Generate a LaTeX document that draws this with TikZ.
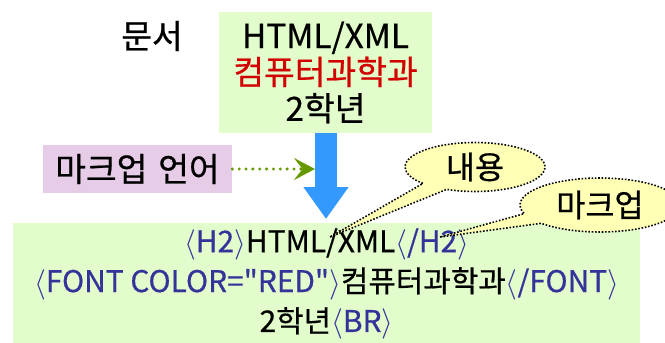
\documentclass[tikz,border=0pt]{standalone}
\usepackage{fontspec}
\setmainfont{Noto Sans CJK KR}[FakeBold=0.6,Ligatures=TeXOff]
\usetikzlibrary{shapes.callouts,arrows.meta}

\definecolor{boxgreen}{RGB}{226,252,204}
\definecolor{boxpink}{RGB}{230,204,230}
\definecolor{arrowblue}{RGB}{51,153,255}
\definecolor{dotgreen}{RGB}{102,153,0}
\definecolor{tagblue}{RGB}{51,51,153}
\definecolor{textred}{RGB}{210,0,0}
\definecolor{noteyellow}{RGB}{255,255,181}

\newcommand{\tg}[1]{\textcolor{tagblue}{$\langle$#1$\rangle$}}

\begin{document}
\begin{tikzpicture}[x=0.02cm,y=-0.02cm,
	note/.style={ellipse callout,draw,densely dotted,line width=0.9pt,fill=noteyellow,
		callout pointer arc=24,inner sep=0pt,font=\fontsize{18}{18}\selectfont}]
	\useasboundingbox (0,0) rectangle (665,342);
	% top: the document
	\node (doc) at(152,36) {\fontsize{19}{19}\selectfont 문서};
	\node (src) at(325.5,72.5) [fill=boxgreen,minimum width=4.28cm,minimum height=2.42cm,
		align=center,font=\fontsize{19}{20.7}\selectfont]
		{HTML/XML\\\textcolor{textred}{컴퓨터과학과}\\2학년};
	% markup language
	\node (lang) at(137.5,169) [fill=boxpink,minimum width=3.78cm,minimum height=0.96cm,
		font=\fontsize{19}{19}\selectfont]{마크업\hspace{0.1em} 언어};
	\coordinate (tip) at(326,219);
	\coordinate (dottip) at(315,169);
	\draw [arrowblue,line width=0.44cm,-{Triangle[width=0.86cm,length=0.64cm]}]
		(tip |- src.south)--(tip);
	\draw [dotgreen,line width=1.9pt,line cap=round,dash pattern=on 0pt off 3.9pt,
		-{Stealth[length=0.42cm,width=0.44cm,inset=0.17cm]}](lang.east)--(dottip);
	% bottom: the marked-up text
	\node (code) at(326.5,284) [fill=boxgreen,minimum width=12.54cm,minimum height=2.4cm,
		align=center,font=\fontsize{17}{22.7}\selectfont]
		{\tg{H2}HTML/XML\tg{/H2}\\\tg{FONT COLOR="RED"}컴퓨터과학과\tg{/FONT}\\2학년\tg{BR}};
	\coordinate (content) at(330,237);
	\coordinate (markup) at(440,237);
	\node (cnote) at(475,167) [note,minimum width=2.8cm,minimum height=0.98cm,
		callout absolute pointer={(content)}]{내용};
	\node (mnote) at(600,205) [note,minimum width=3.2cm,minimum height=1.08cm,
		callout absolute pointer={(markup)}]{마크업};
\end{tikzpicture}
\end{document}
